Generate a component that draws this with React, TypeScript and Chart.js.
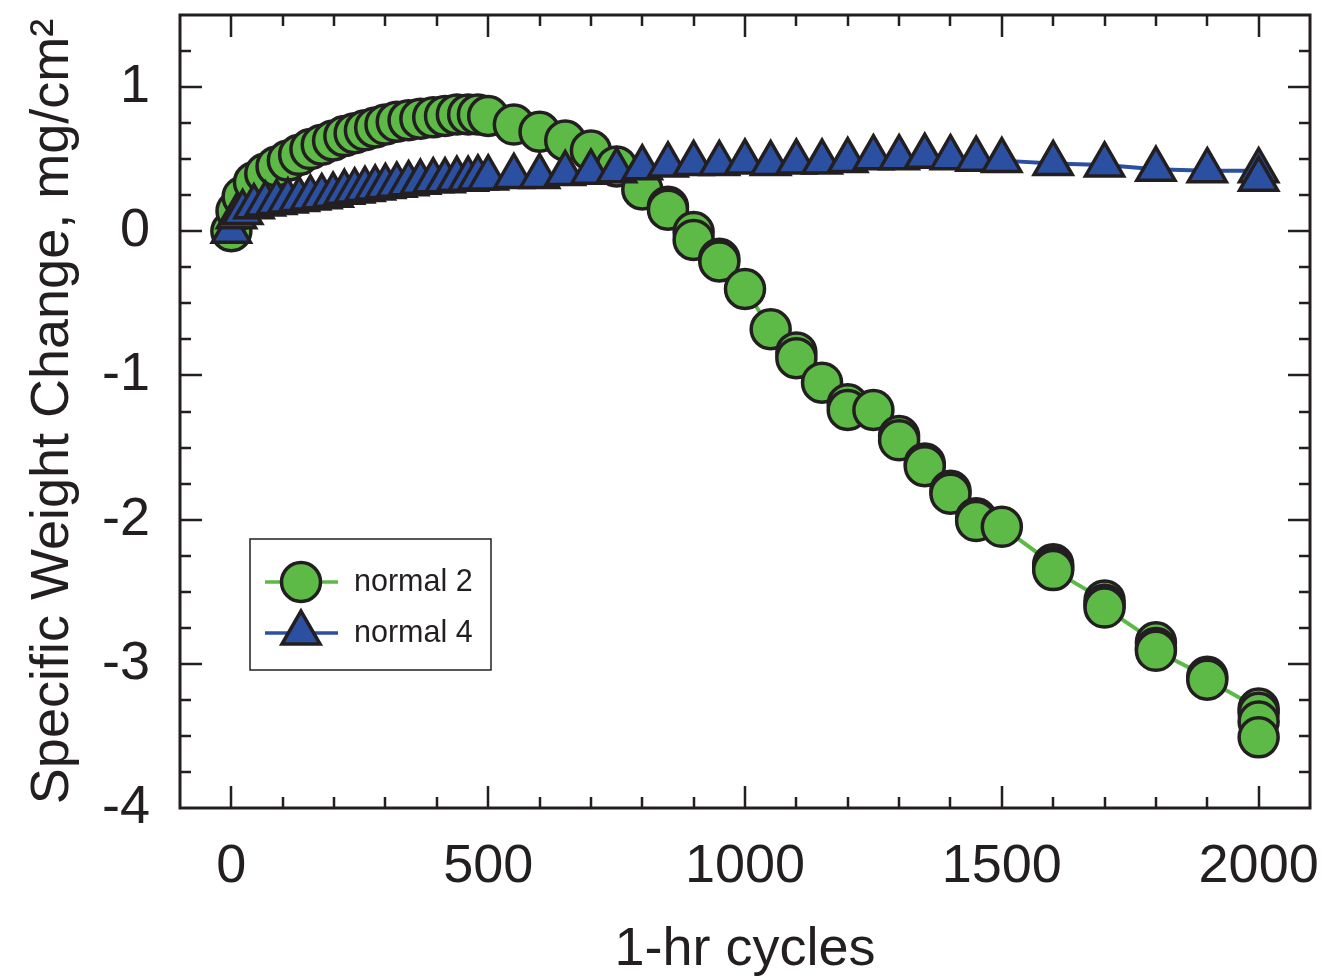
import React, { useEffect, useRef } from "react";
import { Chart, registerables } from "chart.js";

Chart.register(...registerables);

// Cycle counts and specific weight change (mg/cm²) for each coupon
const normal2Cycles = [
  0, 10, 22, 44, 66, 88, 110, 132, 154, 176, 198, 220, 240, 260, 280, 300, 322, 345, 368, 393, 416, 439, 461, 480, 500,
  550, 600, 650, 700, 750, 800, 850, 850, 900, 900, 950, 950, 1000, 1050, 1100, 1100, 1150, 1200, 1200, 1250,
  1300, 1300, 1350, 1350, 1400, 1400, 1450, 1450, 1500, 1600, 1600, 1600, 1700, 1700, 1700, 1800, 1800, 1800,
  1900, 1900, 2000, 2000, 2000, 2000,
];
const normal2Values = [
  0, 0.14, 0.24, 0.34, 0.4, 0.45, 0.49, 0.53, 0.57, 0.6, 0.63, 0.66, 0.68, 0.7, 0.72, 0.74, 0.76, 0.77, 0.78, 0.79, 0.8, 0.81, 0.81, 0.81, 0.8,
  0.74, 0.69, 0.63, 0.56, 0.45, 0.29, 0.17, 0.15, -0.005, -0.06, -0.19, -0.21, -0.4, -0.68, -0.84, -0.88, -1.05, -1.2, -1.24, -1.24,
  -1.42, -1.45, -1.61, -1.63, -1.8, -1.82, -1.99, -2.01, -2.05, -2.31, -2.33, -2.35, -2.56, -2.59, -2.61, -2.85, -2.89, -2.91,
  -3.09, -3.11, -3.31, -3.34, -3.4, -3.51,
];

const normal4Cycles = [
  0, 10, 22, 44, 66, 88, 110, 132, 154, 176, 198, 220, 240, 260, 280, 300, 322, 345, 368, 393, 416, 439, 461, 480, 500,
  550, 600, 650, 700, 750, 800, 850, 900, 950, 1000, 1050, 1100, 1150, 1200, 1250, 1300, 1350, 1400, 1450, 1500,
  1600, 1700, 1800, 1900, 2000, 2000,
];
const normal4Values = [
  0, 0.1, 0.13, 0.17, 0.19, 0.2, 0.21, 0.22, 0.23, 0.24, 0.25, 0.27, 0.28, 0.29, 0.3, 0.31, 0.32, 0.33, 0.34, 0.35, 0.35, 0.36, 0.36, 0.37, 0.37,
  0.38, 0.38, 0.4, 0.41, 0.42, 0.44, 0.46, 0.47, 0.47, 0.48, 0.47, 0.48, 0.48, 0.49, 0.51, 0.51, 0.52, 0.51, 0.5, 0.49,
  0.47, 0.46, 0.43, 0.42, 0.42, 0.36,
];

const seriesNames = ["normal 2", "normal 4"];

const xTickValues = [0, 500, 1000, 1500, 2000];
const yTickValues = [-4, -3, -2, -1, 0, 1];
const xMinorStep = 100;
const yMinorStep = 0.25;

const INK = "#231f20";
const GREEN = "#5dba47";
const BLUE = "#2c50a1";
const FONT = "'Liberation Sans', Arial, Helvetica, sans-serif";

const toPoints = (xs: number[], ys: number[]) => xs.map((x, i) => ({ x, y: ys[i] }));

// Fixed axis box sizes with no extra label overhang, so the plot area is set by layout padding alone
const fixBox = (size: { width?: number; height?: number }) => (scale: any) => {
  if (size.width !== undefined) scale.width = size.width;
  if (size.height !== undefined) scale.height = size.height;
  scale.paddingLeft = 0;
  scale.paddingRight = 0;
  scale.paddingTop = 0;
  scale.paddingBottom = 0;
};

// Boxed frame with inward major/minor ticks on all four sides
const framePlugin = {
  id: "frame",
  afterDatasetsDraw(chart: any) {
    const { ctx, chartArea: a, scales } = chart;
    const xs = scales.x;
    const ys = scales.y;
    ctx.save();
    ctx.strokeStyle = INK;
    ctx.lineCap = "butt";
    ctx.lineWidth = 2.5;
    ctx.beginPath();
    for (let v = xs.min; v <= xs.max + 1e-9; v += xMinorStep) {
      const px = Math.round(xs.getPixelForValue(v));
      if (px <= a.left + 1 || px >= a.right - 1) continue;
      const major = xTickValues.includes(Math.round(v));
      const len = major ? 22 : 11;
      ctx.moveTo(px, a.bottom);
      ctx.lineTo(px, a.bottom - len);
      ctx.moveTo(px, a.top);
      ctx.lineTo(px, a.top + len);
    }
    for (let v = ys.min; v <= ys.max + 1e-9; v += yMinorStep) {
      const py = Math.round(ys.getPixelForValue(v));
      if (py <= a.top + 1 || py >= a.bottom - 1) continue;
      const major = Math.abs(v - Math.round(v)) < 1e-6;
      const len = major ? 22 : 11;
      ctx.moveTo(a.left, py);
      ctx.lineTo(a.left + len, py);
      ctx.moveTo(a.right, py);
      ctx.lineTo(a.right - len, py);
    }
    ctx.stroke();
    ctx.lineWidth = 3;
    ctx.strokeRect(a.left, a.top, a.right - a.left, a.bottom - a.top);
    ctx.restore();
  },
};

// Same marker geometry the point elements use (circle / inscribed triangle)
function drawMarker(ctx: CanvasRenderingContext2D, style: string, r: number, x: number, y: number) {
  ctx.beginPath();
  if (style === "triangle") {
    let rad = 0;
    ctx.moveTo(x + Math.sin(rad) * r, y - Math.cos(rad) * r);
    rad += (2 * Math.PI) / 3;
    ctx.lineTo(x + Math.sin(rad) * r, y - Math.cos(rad) * r);
    rad += (2 * Math.PI) / 3;
    ctx.lineTo(x + Math.sin(rad) * r, y - Math.cos(rad) * r);
    ctx.closePath();
  } else {
    ctx.arc(x, y, r, 0, Math.PI * 2);
    ctx.closePath();
  }
  ctx.fill();
  ctx.stroke();
}

// Boxed legend inside the plot, each entry a line segment with its marker
const legendPlugin = {
  id: "boxLegend",
  afterDraw(chart: any) {
    const { ctx } = chart;
    const box = { left: 250, top: 539, width: 241, height: 131 };
    ctx.save();
    ctx.strokeStyle = INK;
    ctx.lineWidth = 1.5;
    ctx.strokeRect(box.left, box.top, box.width, box.height);
    const entries = [
      { ds: chart.data.datasets[1], y: 582 },
      { ds: chart.data.datasets[0], y: 633 },
    ];
    entries.forEach(({ ds, y }) => {
      ctx.strokeStyle = ds.borderColor;
      ctx.lineWidth = 3.5;
      ctx.beginPath();
      ctx.moveTo(265, y);
      ctx.lineTo(338, y);
      ctx.stroke();
      ctx.fillStyle = ds.pointBackgroundColor;
      ctx.strokeStyle = ds.pointBorderColor;
      ctx.lineWidth = ds.pointBorderWidth;
      drawMarker(ctx, ds.pointStyle, ds.pointRadius, 301, y);
      ctx.fillStyle = INK;
      ctx.font = `30.5px ${FONT}`;
      ctx.textBaseline = "middle";
      ctx.textAlign = "left";
      ctx.fillText(ds.label, 354, y + 1);
    });
    ctx.restore();
  },
};

export default function App() {
  const canvasRef = useRef<HTMLCanvasElement | null>(null);

  useEffect(() => {
    const canvas = canvasRef.current;
    if (!canvas) return;
    const chart = new Chart(canvas, {
      type: "scatter",
      data: {
        datasets: [
          {
            label: seriesNames[1],
            data: toPoints(normal4Cycles, normal4Values),
            showLine: true,
            borderColor: BLUE,
            borderWidth: 4,
            pointStyle: "triangle",
            pointRadius: 22,
            pointHoverRadius: 22,
            pointBackgroundColor: BLUE,
            pointBorderColor: INK,
            pointBorderWidth: 3.5,
          } as any,
          {
            label: seriesNames[0],
            data: toPoints(normal2Cycles, normal2Values),
            showLine: true,
            borderColor: GREEN,
            borderWidth: 4,
            pointStyle: "circle",
            pointRadius: 19.5,
            pointHoverRadius: 19.5,
            pointBackgroundColor: GREEN,
            pointBorderColor: INK,
            pointBorderWidth: 3.5,
          } as any,
        ],
      },
      options: {
        responsive: false,
        animation: false,
        events: [],
        layout: { autoPadding: false, padding: { top: 15, right: 13, left: 0, bottom: 0 } },
        plugins: { legend: { display: false }, tooltip: { enabled: false } },
        scales: {
          x: {
            type: "linear",
            min: -100,
            max: 2100,
            afterBuildTicks: (scale: any) => {
              scale.ticks = xTickValues.map((value) => ({ value }));
            },
            afterFit: fixBox({ height: 172 }),
            grid: { display: false, drawTicks: false },
            border: { display: false },
            ticks: {
              color: INK,
              padding: 27,
              maxRotation: 0,
              autoSkip: false,
              font: { family: FONT, size: 54 },
              callback: (v: any) => String(v),
            },
            title: {
              display: true,
              text: "1-hr cycles",
              color: INK,
              font: { family: FONT, size: 54 },
              padding: { top: 0, bottom: -3 },
            },
          },
          y: {
            type: "linear",
            min: -4,
            max: 1.5,
            afterBuildTicks: (scale: any) => {
              scale.ticks = yTickValues.map((value) => ({ value }));
            },
            afterFit: fixBox({ width: 180 }),
            grid: { display: false, drawTicks: false },
            border: { display: false },
            ticks: {
              color: INK,
              padding: 30,
              autoSkip: false,
              font: { family: FONT, size: 54 },
              callback: (v: any) => String(v),
            },
            title: {
              display: true,
              text: "Specific Weight Change, mg/cm²",
              color: INK,
              font: { family: FONT, size: 54 },
              padding: { top: 21, bottom: 0 },
            },
          },
        },
      },
      plugins: [framePlugin, legendPlugin],
    });
    return () => chart.destroy();
  }, []);

  return (
    <div style={{ position: "fixed", left: 0, top: 0, width: 1323, height: 980, background: "#fff" }}>
      <canvas ref={canvasRef} width={1323} height={980} />
    </div>
  );
}
